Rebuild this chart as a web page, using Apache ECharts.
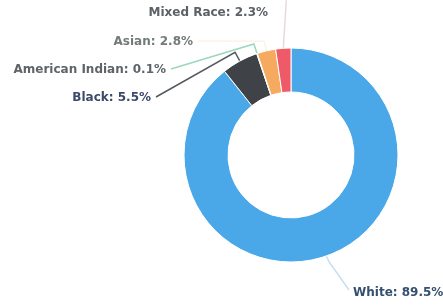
<!DOCTYPE html>
<html><head><meta charset="utf-8">
<script src="https://cdn.jsdelivr.net/npm/echarts@6/dist/echarts.min.js"></script>
<style>html,body{margin:0;padding:0;background:#fff}#c{width:443px;height:305px}</style>
</head><body><div id="c"></div>
<script>
const categories = ['White', 'Black', 'American Indian', 'Asian', 'Mixed Race'];
const values = [89.5, 5.5, 0.1, 2.8, 2.3];

const sliceColors = ['#4ba8e8', '#3f4247', '#8fdcb4', '#f5aa60', '#ee5a68'];
const labelColors = ['#34506e', '#3c4a6a', '#5e6468', '#727a7a', '#5c6166'];
const lineColors = ['#c8dff0', '#555a60', '#9ad8bc', 'rgba(245,170,96,0.15)', '#e8d8dc'];
// label text anchor (x, y) and alignment
const labelPos = [[353, 293, 'left'], [151, 98, 'right'], [166, 70, 'right'], [193, 42, 'right'], [268, 13, 'right']];

const chart = echarts.init(document.getElementById('c'), null, {renderer: 'canvas'});
chart.setOption({
  animation: false,
  series: [{
    type: 'pie',
    center: [291, 155],
    radius: [63, 107],
    startAngle: 90,
    clockwise: true,
    avoidLabelOverlap: false,
    itemStyle: {borderColor: '#fff', borderWidth: 1},
    label: {
      show: true,
      formatter: p => p.name + ': ' + p.value + '%',
      fontFamily: 'DejaVu Sans',
      fontWeight: 'bold',
      fontSize: 12
    },
    labelLine: {show: true, length: 10, length2: 20, lineStyle: {width: 1.5}},
    labelLayout: function (params) {
      const i = params.dataIndex;
      const lp = labelPos[i];
      const a = params.labelLinePoints ? params.labelLinePoints[0] : [0, 0];
      let pts;
      if (i === 4) {
        pts = [a, [a[0] + 3, a[1] - 48]];
      } else if (i === 0) {
        pts = [a, [a[0] + 3, a[1] + 6], [lp[0] - 4, lp[1] - 3]];
      } else {
        const dx = a[0] - 291, dy = a[1] - 155, r = Math.sqrt(dx * dx + dy * dy);
        const e = [a[0] + dx / r * 10, a[1] + dy / r * 10];
        pts = [a, e, [lp[0] + 5, lp[1] - 1]];
      }
      return {x: lp[0], y: lp[1], align: lp[2], verticalAlign: 'middle', labelLinePoints: pts};
    },
    data: categories.map((n, i) => ({
      name: n, value: values[i],
      itemStyle: {color: sliceColors[i]},
      label: {color: labelColors[i]},
      labelLine: {lineStyle: {color: lineColors[i]}}
    }))
  }]
});
</script></body></html>
